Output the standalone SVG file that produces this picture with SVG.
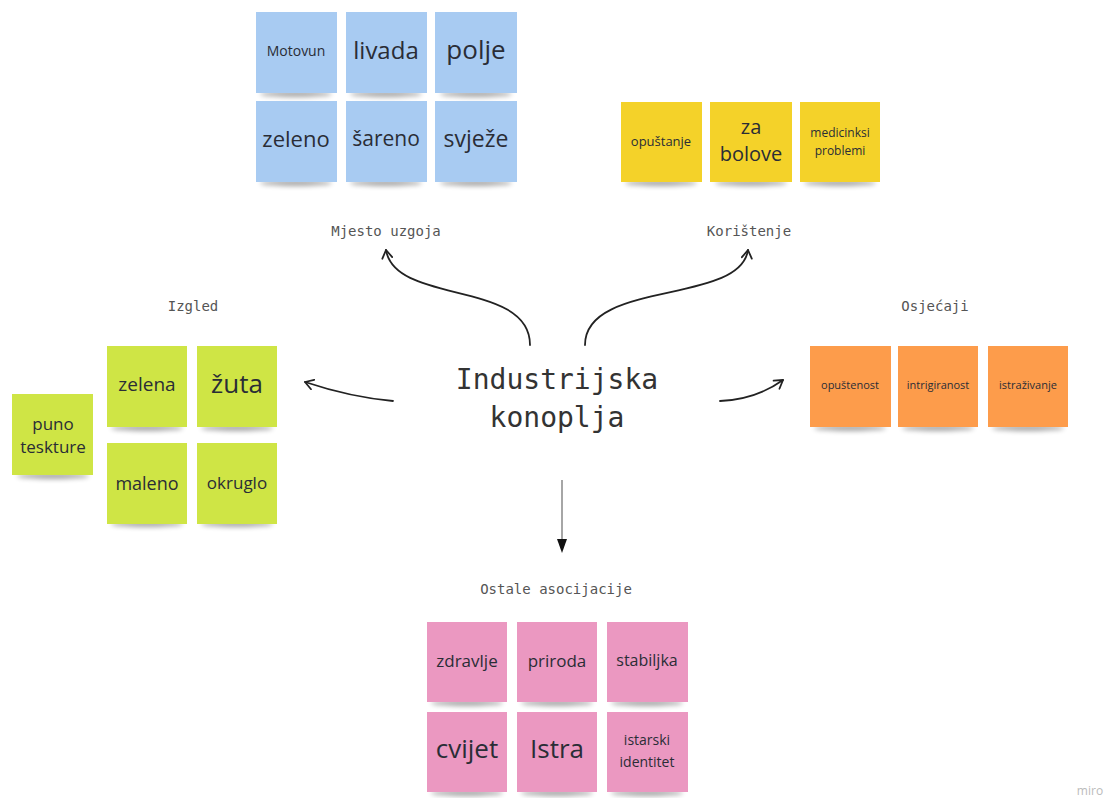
<svg xmlns="http://www.w3.org/2000/svg" width="1111" height="798" viewBox="0 0 1111 798">
<defs>
<filter id="sh" x="-20%" y="-100%" width="140%" height="300%"><feGaussianBlur stdDeviation="2.5"/></filter>
<marker id="open" viewBox="0 0 12 12" refX="10" refY="6" markerWidth="12" markerHeight="12" markerUnits="userSpaceOnUse" orient="auto"><path d="M2,1 L10,6 L2,11" fill="none" stroke="#222" stroke-width="1.8" stroke-linecap="round" stroke-linejoin="round"/></marker>
</defs>
<style>
.n text{font-family:"Open Sans","Liberation Sans",sans-serif;fill:#2a2d36;text-anchor:middle;dominant-baseline:central}
.s{fill:#000;opacity:0.35;filter:url(#sh)}
.b{fill:#a8cbf2}.y{fill:#f4d229}.g{fill:#cfe545}.o{fill:#fd9c4b}.p{fill:#eb98c1}
.lbl{font-family:"DejaVu Sans Mono","Liberation Mono",monospace;font-size:14px;fill:#555;text-anchor:middle}
.c{fill:none;stroke:#222;stroke-width:1.8;stroke-linecap:round}
</style>
<rect width="1111" height="798" fill="#ffffff"/>

<g id="labels">
<text class="lbl" x="386" y="236">Mjesto uzgoja</text>
<text class="lbl" x="749" y="236">Korištenje</text>
<text class="lbl" x="193" y="311">Izgled</text>
<text class="lbl" x="935" y="311">Osjećaji</text>
<text class="lbl" x="556" y="594">Ostale asocijacije</text>
</g>

<g id="center">
<text x="557" y="389" font-family="DejaVu Sans Mono,Liberation Mono,monospace" font-size="28" fill="#333" text-anchor="middle">Industrijska</text>
<text x="557" y="427" font-family="DejaVu Sans Mono,Liberation Mono,monospace" font-size="28" fill="#333" text-anchor="middle">konoplja</text>
</g>

<g id="connectors">
<path class="c" d="M530,345 C530,280 395,305 386,250" marker-end="url(#open)"/>
<path class="c" d="M585,345 C585,280 740,305 748,250" marker-end="url(#open)"/>
<path class="c" d="M393,401 C360,398 335,392 305,382" marker-end="url(#open)"/>
<path class="c" d="M720,401 C745,400 765,393 783,380" marker-end="url(#open)"/>
<line x1="562" y1="480" x2="562" y2="540" stroke="#888" stroke-width="1.5"/>
<path d="M557,539 L567,539 L562,553 Z" fill="#111"/>
</g>

<g id="mjesto" class="n">
<g id="n-motovun"><ellipse class="s" cx="296" cy="94" rx="36" ry="3"/><rect class="b" x="256" y="12" width="81" height="81"/><text x="296" y="50" font-size="14">Motovun</text></g>
<g id="n-livada"><ellipse class="s" cx="386" cy="94" rx="36" ry="3"/><rect class="b" x="346" y="12" width="81" height="81"/><text x="386" y="49" font-size="24">livada</text></g>
<g id="n-polje"><ellipse class="s" cx="476" cy="94" rx="36" ry="3"/><rect class="b" x="435" y="12" width="82" height="81"/><text x="476" y="49" font-size="26">polje</text></g>
<g id="n-zeleno"><ellipse class="s" cx="296" cy="183" rx="36" ry="3"/><rect class="b" x="256" y="101" width="81" height="81"/><text x="296" y="138" font-size="22">zeleno</text></g>
<g id="n-sareno"><ellipse class="s" cx="386" cy="183" rx="36" ry="3"/><rect class="b" x="346" y="101" width="81" height="81"/><text x="386" y="138" font-size="21">šareno</text></g>
<g id="n-svjeze"><ellipse class="s" cx="476" cy="183" rx="36" ry="3"/><rect class="b" x="435" y="101" width="82" height="81"/><text x="476" y="138" font-size="23">svježe</text></g>
</g>

<g id="koristenje" class="n">
<g id="n-opustanje"><ellipse class="s" cx="661" cy="183" rx="36" ry="3"/><rect class="y" x="621" y="102" width="81" height="80"/><text x="661" y="141" font-size="13">opuštanje</text></g>
<g id="n-zabolove"><ellipse class="s" cx="751" cy="183" rx="36" ry="3"/><rect class="y" x="710" y="102" width="82" height="80"/><text x="751" y="126" font-size="20">za</text><text x="751" y="153" font-size="20">bolove</text></g>
<g id="n-medicinski"><ellipse class="s" cx="840" cy="183" rx="36" ry="3"/><rect class="y" x="800" y="102" width="80" height="80"/><text x="840" y="132" font-size="12">medicinksi</text><text x="840" y="150" font-size="12">problemi</text></g>
</g>

<g id="izgled" class="n">
<g id="n-puno"><ellipse class="s" cx="53" cy="476" rx="36" ry="3"/><rect class="g" x="12" y="394" width="81" height="81"/><text x="53" y="423" font-size="17">puno</text><text x="53" y="446" font-size="17">teskture</text></g>
<g id="n-zelena"><ellipse class="s" cx="147" cy="428" rx="36" ry="3"/><rect class="g" x="107" y="346" width="80" height="81"/><text x="147" y="384" font-size="19">zelena</text></g>
<g id="n-zuta"><ellipse class="s" cx="237" cy="428" rx="36" ry="3"/><rect class="g" x="197" y="346" width="80" height="81"/><text x="237" y="383" font-size="26">žuta</text></g>
<g id="n-maleno"><ellipse class="s" cx="147" cy="524" rx="36" ry="3"/><rect class="g" x="107" y="443" width="80" height="81"/><text x="147" y="483" font-size="18">maleno</text></g>
<g id="n-okruglo"><ellipse class="s" cx="237" cy="524" rx="36" ry="3"/><rect class="g" x="197" y="443" width="80" height="81"/><text x="237" y="482" font-size="17">okruglo</text></g>
</g>

<g id="osjecaji" class="n">
<g id="n-opustenost"><ellipse class="s" cx="850" cy="428" rx="36" ry="3"/><rect class="o" x="810" y="346" width="81" height="81"/><text x="850" y="384" font-size="11">opuštenost</text></g>
<g id="n-intrigiranost"><ellipse class="s" cx="938" cy="428" rx="36" ry="3"/><rect class="o" x="898" y="346" width="80" height="81"/><text x="938" y="384" font-size="11">intrigiranost</text></g>
<g id="n-istrazivanje"><ellipse class="s" cx="1028" cy="428" rx="36" ry="3"/><rect class="o" x="988" y="346" width="80" height="81"/><text x="1028" y="384" font-size="11">istraživanje</text></g>
</g>

<g id="ostale" class="n">
<g id="n-zdravlje"><ellipse class="s" cx="467" cy="703" rx="36" ry="3"/><rect class="p" x="427" y="622" width="80" height="80"/><text x="467" y="660" font-size="17">zdravlje</text></g>
<g id="n-priroda"><ellipse class="s" cx="557" cy="703" rx="36" ry="3"/><rect class="p" x="517" y="622" width="80" height="80"/><text x="557" y="660" font-size="17">priroda</text></g>
<g id="n-stabiljka"><ellipse class="s" cx="647" cy="703" rx="36" ry="3"/><rect class="p" x="607" y="622" width="81" height="80"/><text x="647" y="660" font-size="16">stabiljka</text></g>
<g id="n-cvijet"><ellipse class="s" cx="467" cy="793" rx="36" ry="3"/><rect class="p" x="427" y="712" width="80" height="80"/><text x="467" y="748" font-size="26">cvijet</text></g>
<g id="n-istra"><ellipse class="s" cx="557" cy="793" rx="36" ry="3"/><rect class="p" x="517" y="712" width="80" height="80"/><text x="557" y="748" font-size="26">Istra</text></g>
<g id="n-istarski"><ellipse class="s" cx="647" cy="793" rx="36" ry="3"/><rect class="p" x="607" y="712" width="81" height="80"/><text x="647" y="739" font-size="14">istarski</text><text x="647" y="761" font-size="14">identitet</text></g>
</g>

<text x="1090" y="795" font-family="Open Sans,Liberation Sans,sans-serif" font-size="12" fill="#bbb" text-anchor="middle">miro</text>
</svg>
